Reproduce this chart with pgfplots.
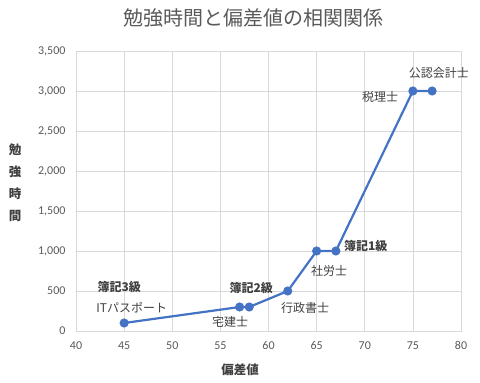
\documentclass[border=0pt]{standalone}
\usepackage{fontspec}
\setmainfont{Carlito}
\newfontfamily\jp{Noto Sans CJK JP}
\usepackage{pgfplots}
\pgfplotsset{compat=1.18}
\definecolor{lineblue}{HTML}{4472C4}
\definecolor{gridgray}{HTML}{D9D9D9}
\definecolor{tickgray}{HTML}{595959}
\definecolor{lblgray}{HTML}{404040}
\begin{document}
\begin{tikzpicture}
\useasboundingbox (0,0) rectangle (480bp,383bp);
\begin{axis}[
  at={(76bp,52bp)}, anchor=south west,
  scale only axis, width=385bp, height=280bp,
  xmin=40, xmax=80, ymin=0, ymax=3500,
  xtick distance=5, ytick distance=500,
  grid=major, major grid style={draw=gridgray, line width=0.75bp},
  axis line style={draw=gridgray, line width=0.75bp},
  tick style={draw=none},
  scaled y ticks=false,
  /pgf/number format/assume math mode=true,
  /pgf/number format/1000 sep={,},
  ticklabel style={font=\fontsize{12bp}{14bp}\selectfont, text=tickgray},
  yticklabel style={xshift=-7bp},
  xticklabel style={yshift=-7bp},
  clip=false,
]
\addplot[color=lineblue, line width=2.2bp, mark=*, mark size=3.4bp,
  mark options={fill=lineblue, draw=lineblue}] coordinates {
  (45,100) (57,300) (58,300) (62,500) (65,1000) (67,1000) (75,3000) (77,3000)
};
\begin{scope}[every node/.style={font=\jp\fontsize{12bp}{14bp}\selectfont, text=lblgray, inner sep=0pt}]
\node at (axis cs:44.5,550) {\bfseries 簿記3級};
\node at (axis cs:45.8,287) {ITパスポート};
\node at (axis cs:56.0,112) {宅建士};
\node at (axis cs:58.2,537) {\bfseries 簿記2級};
\node at (axis cs:63.8,287) {行政書士};
\node at (axis cs:66.3,750) {社労士};
\node at (axis cs:70.1,1062) {\bfseries 簿記1級};
\node at (axis cs:71.6,2925) {税理士};
\node at (axis cs:77.7,3225) {公認会計士};
\end{scope}
\end{axis}
\node[font=\jp\fontsize{20bp}{24bp}\selectfont, text=tickgray] at (253bp,365bp) {勉強時間と偏差値の相関関係};
\node[font=\jp\bfseries\fontsize{12.5bp}{22bp}\selectfont, text=lblgray, align=center] at (240bp,13bp) {偏差値};
\node[font=\jp\bfseries\fontsize{12.5bp}{22bp}\selectfont, text=lblgray, align=center] at (15bp,200.5bp) {勉\\強\\時\\間};
\end{tikzpicture}
\end{document}
